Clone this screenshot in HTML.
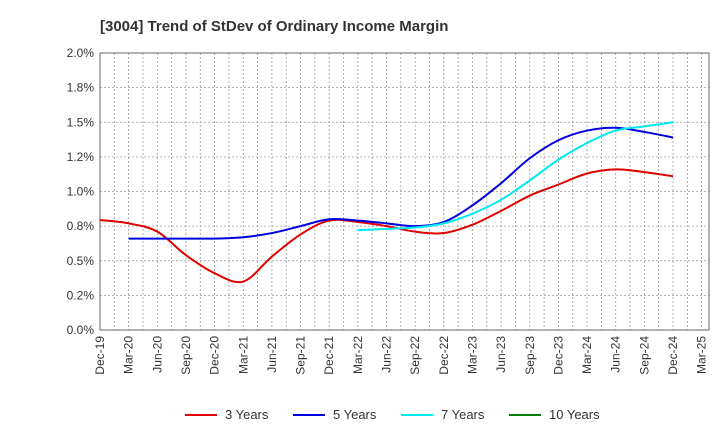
<!DOCTYPE html>
<html><head><meta charset="utf-8"><style>
body{margin:0;background:#fff;font-family:"Liberation Sans",sans-serif;}
</style></head><body>
<svg id="c" width="720" height="440" xmlns="http://www.w3.org/2000/svg"></svg>
<script>
const quarters=["Dec-19","Mar-20","Jun-20","Sep-20","Dec-20","Mar-21","Jun-21","Sep-21","Dec-21","Mar-22","Jun-22","Sep-22","Dec-22","Mar-23","Jun-23","Sep-23","Dec-23","Mar-24","Jun-24","Sep-24","Dec-24","Mar-25"];
const yTicks=[0,0.25,0.5,0.75,1,1.25,1.5,1.75,2];
const yTickLabels=["0.0%","0.2%","0.5%","0.8%","1.0%","1.2%","1.5%","1.8%","2.0%"];
const s3=[0.794,0.77,0.71,0.54,0.41,0.35,0.53,0.69,0.79,0.78,0.75,0.71,0.70,0.76,0.86,0.97,1.05,1.13,1.16,1.14,1.11];
const s5=[null,0.66,0.66,0.66,0.66,0.67,0.70,0.75,0.80,0.79,0.77,0.75,0.78,0.90,1.06,1.24,1.37,1.44,1.46,1.43,1.39];
const s7=[null,null,null,null,null,null,null,null,null,0.72,0.73,0.74,0.77,0.84,0.94,1.08,1.23,1.35,1.44,1.47,1.50];
const s10=[];
const series=[{n:"3 Years",c:"#e00000",d:s3},{n:"5 Years",c:"#0000dd",d:s5},{n:"7 Years",c:"#00e8f0",d:s7},{n:"10 Years",c:"#008000",d:s10}];
const L=100,R=709,T=53,B=330,STEP=28.65;
const X=i=>L+STEP*i;
const Y=v=>B-(B-T)*v/2;
const svg=document.getElementById('c');const NS="http://www.w3.org/2000/svg";
function mk(t,a,p){const e=document.createElementNS(NS,t);for(const k in a)e.setAttribute(k,a[k]);(p||svg).appendChild(e);return e;}
let e=mk('text',{x:100,y:31,'font-size':15,'font-weight':'bold',fill:'#333'});e.textContent="[3004]  Trend of StDev of Ordinary Income Margin";


const grid=mk('g',{stroke:'#999','stroke-width':0.8,'stroke-dasharray':'2,2'});


quarters.forEach((q,i)=>{const x=X(i);mk('line',{x1:x,x2:x,y1:T,y2:B},grid);
 if(x+STEP/2<R)mk('line',{x1:x+STEP/2,x2:x+STEP/2,y1:T,y2:B},grid);
 const t=mk('text',{x:0,y:0,'font-size':12,fill:'#333','text-anchor':'end',transform:`translate(${x+4},${B+6}) rotate(-90)`});t.textContent=q;
 
 });
yTicks.forEach((v,i)=>{const y=Y(v);mk('line',{x1:L,x2:R,y1:y,y2:y},grid);
 const t=mk('text',{x:L-6,y:y+4,'font-size':12,fill:'#333','text-anchor':'end'});t.textContent=yTickLabels[i];
 
 });
e=mk('rect',{x:L,y:T,width:R-L,height:B-T,fill:'none',stroke:'#666'});


function path(d){const p=[];d.forEach((v,i)=>{if(v!=null)p.push([X(i),Y(v)]);});if(p.length<2)return"";
 let s=`M${p[0][0]},${p[0][1]}`;for(let i=0;i<p.length-1;i++){const p0=p[i-1]||p[i],p1=p[i],p2=p[i+1],p3=p[i+2]||p2;
 s+=`C${p1[0]+(p2[0]-p0[0])/6},${p1[1]+(p2[1]-p0[1])/6} ${p2[0]-(p3[0]-p1[0])/6},${p2[1]-(p3[1]-p1[1])/6} ${p2[0]},${p2[1]}`;}return s;}
series.forEach((s,k)=>{const d=path(s.d);if(d){const l=mk('path',{d:d,fill:'none',stroke:s.c,'stroke-width':2});
 
 }
 const lx=185+k*108;const g=mk('g',{});
 
 
 mk('line',{x1:lx,x2:lx+32,y1:415,y2:415,stroke:s.c,'stroke-width':2},g);
 const t=mk('text',{x:lx+40,y:419,'font-size':13,fill:'#333'},g);t.textContent=s.n;});
</script>
</body></html>
